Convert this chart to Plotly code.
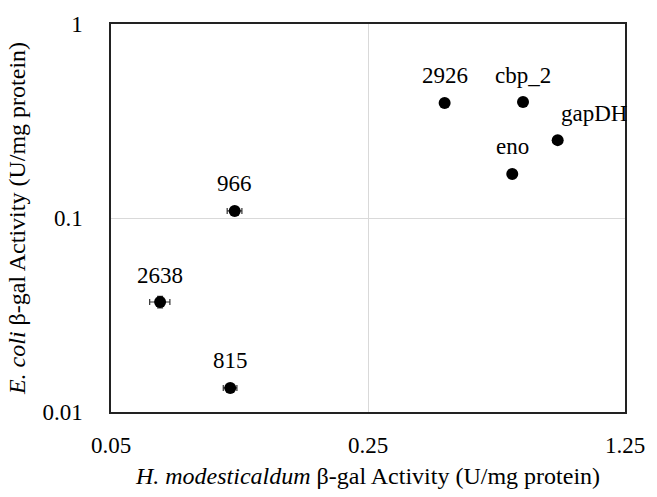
import plotly.graph_objects as go
import math

labels = ["2638", "966", "815", "2926", "cbp_2", "eno", "gapDH"]
x_vals = [0.068, 0.1085, 0.1055, 0.404, 0.66, 0.617, 0.82]
y_vals = [0.0369, 0.1087, 0.0133, 0.392, 0.396, 0.1686, 0.252]
x_err = [0.0043, 0.005, 0.0045, 0.004, 0.005, 0.005, 0.006]
y_err = [0.0025, 0.005, 0.0006, 0.006, 0.006, 0.004, 0.005]
label_dx = [0, 0, 0, 0, 0, 0, 36]

x_ticks = [0.05, 0.25, 1.25]
x_tick_text = ["0.05", "0.25", "1.25"]
y_ticks = [0.01, 0.1, 1]
y_tick_text = ["0.01", "0.1", "1"]

font_family = "Liberation Serif"

fig = go.Figure()
fig.add_trace(go.Scatter(
    x=x_vals, y=y_vals, mode="markers",
    marker=dict(color="black", size=12),
    error_x=dict(type="data", array=x_err, color="#333", thickness=1.2, width=3),
    error_y=dict(type="data", array=y_err, color="#333", thickness=1.2, width=3),
    showlegend=False, cliponaxis=False,
))

annotations = []
for lab, xv, yv, dx in zip(labels, x_vals, y_vals, label_dx):
    annotations.append(dict(
        x=math.log10(xv), y=math.log10(yv), xref="x", yref="y",
        text=lab, showarrow=False, xshift=dx, yshift=27,
        font=dict(family=font_family, size=23, color="black"),
    ))

fig.update_layout(
    width=657, height=497,
    margin=dict(l=111, r=22, t=21, b=85),
    plot_bgcolor="white", paper_bgcolor="white",
    font=dict(family=font_family, size=23, color="black"),
    annotations=annotations,
    xaxis=dict(
        type="log", range=[math.log10(0.05), math.log10(1.25)],
        tickvals=x_ticks, ticktext=x_tick_text,
        showgrid=True, gridcolor="#d9d9d9", gridwidth=1,
        showline=True, linecolor="#222", linewidth=1.5, mirror=True,
        ticks="", zeroline=False, ticklabelstandoff=12,
        tickfont=dict(family=font_family, size=23),
        title=dict(text="<i>H. modesticaldum</i> β-gal Activity (U/mg protein)",
                   font=dict(family=font_family, size=24), standoff=10),
    ),
    yaxis=dict(
        type="log", range=[math.log10(0.01), math.log10(1)],
        tickvals=y_ticks, ticktext=y_tick_text,
        showgrid=True, gridcolor="#d9d9d9", gridwidth=1,
        showline=True, linecolor="#222", linewidth=1.5, mirror=True,
        ticks="", zeroline=False, ticklabelstandoff=22,
        tickfont=dict(family=font_family, size=23),
        title=dict(text="<i>E. coli</i> β-gal Activity (U/mg protein)",
                   font=dict(family=font_family, size=24), standoff=10),
    ),
)

fig.write_html("out.html")
